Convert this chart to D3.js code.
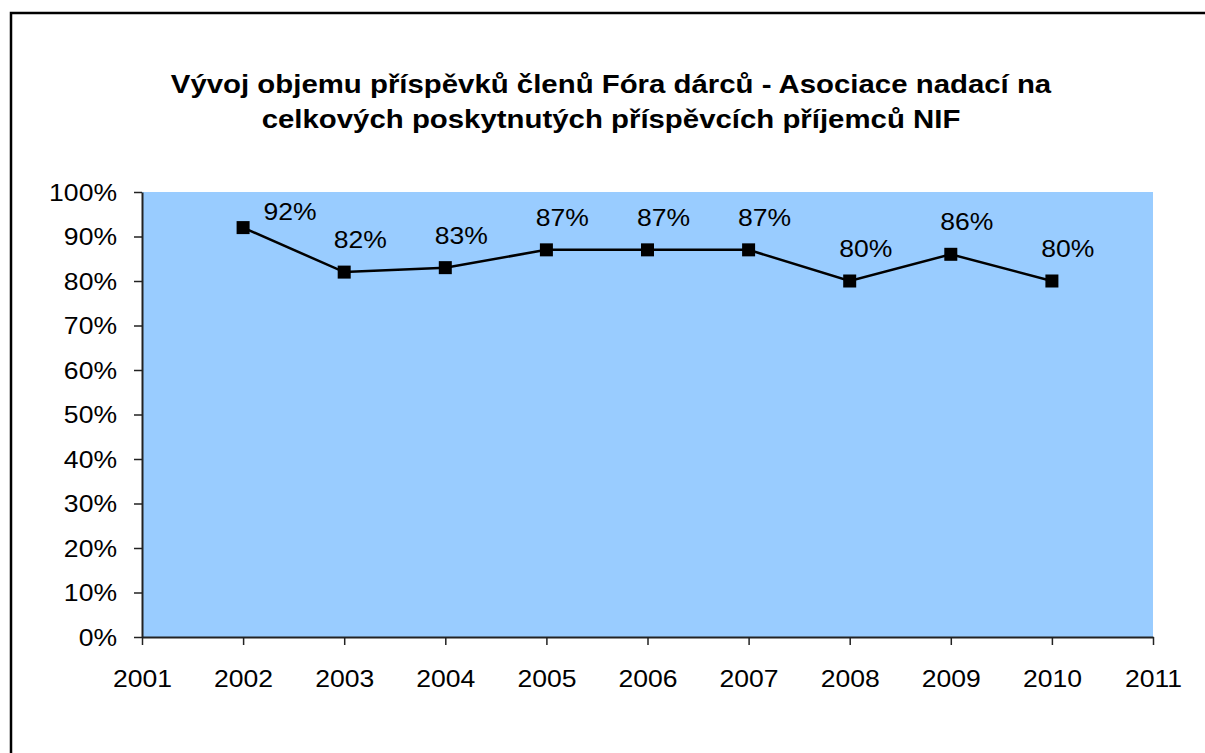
<!DOCTYPE html>
<html>
<head>
<meta charset="utf-8">
<script src="https://cdn.jsdelivr.net/npm/d3@7"></script>
<style>
  body { margin: 0; background: #fff; }
  text { font-family: Arial, "Liberation Sans", sans-serif; fill: #000; }
</style>
</head>
<body>
<div id="chart"></div>
<script>
// data
var years = [2002, 2003, 2004, 2005, 2006, 2007, 2008, 2009, 2010];
var shares = [0.92, 0.82, 0.83, 0.87, 0.87, 0.87, 0.80, 0.86, 0.80];
var xTicks = [2001, 2002, 2003, 2004, 2005, 2006, 2007, 2008, 2009, 2010, 2011];
var yTicks = [0, 0.1, 0.2, 0.3, 0.4, 0.5, 0.6, 0.7, 0.8, 0.9, 1];
var titleLines = ["Vývoj objemu příspěvků členů Fóra dárců - Asociace nadací na",
                  "celkových poskytnutých příspěvcích příjemců NIF"];

var W = 1205, H = 753;
var plot = {left: 142, right: 1153, top: 192, bottom: 637};
var sx = 1.13; // the picture is a bit stretched sideways

var svg = d3.select("#chart").append("svg")
    .attr("width", W)
    .attr("height", H);

// outer frame (only top and left edges show)
svg.append("path")
    .attr("d", "M11," + H + "V13H" + W)
    .attr("fill", "none")
    .attr("stroke", "#000")
    .attr("stroke-width", 2.5);

// title
svg.selectAll(".title")
    .data(titleLines)
  .enter().append("text")
    .attr("class", "title")
    .attr("transform", function(d, i) { return "translate(611," + (93 + i * 35) + ") scale(" + sx + ",1)"; })
    .attr("text-anchor", "middle")
    .style("font-size", "26px")
    .style("font-weight", "bold")
    .text(function(d) { return d; });

var x = d3.scaleLinear().domain([2001, 2011]).range([plot.left, plot.right]);
var y = d3.scaleLinear().domain([0, 1]).range([plot.bottom, plot.top]);

// plot area
svg.append("rect")
    .attr("x", plot.left)
    .attr("y", plot.top)
    .attr("width", plot.right - plot.left)
    .attr("height", plot.bottom - plot.top)
    .attr("fill", "#99ccff");

// Y axis
var yAxis = svg.append("g")
    .attr("transform", "translate(" + plot.left + ",0)")
    .call(d3.axisLeft(y).tickValues(yTicks).tickSize(8).tickSizeOuter(0).tickFormat(d3.format(".0%")));
yAxis.select(".domain").attr("stroke", "#222").attr("stroke-width", 2);
yAxis.selectAll(".tick line").attr("stroke", "#222").attr("stroke-width", 1.5);
yAxis.selectAll(".tick text")
    .attr("x", null).attr("dy", null)
    .attr("transform", "translate(-25,8) scale(" + sx + ",1)")
    .style("font-size", "23.5px")
    .style("font-family", "Arial, 'Liberation Sans', sans-serif");

// X axis
var xAxis = svg.append("g")
    .attr("transform", "translate(0," + plot.bottom + ")")
    .call(d3.axisBottom(x).tickValues(xTicks).tickSize(8).tickSizeOuter(0).tickFormat(d3.format("d")));
xAxis.select(".domain").attr("stroke", "#222").attr("stroke-width", 2);
xAxis.selectAll(".tick line").attr("stroke", "#222").attr("stroke-width", 1.5);
xAxis.selectAll(".tick text")
    .attr("y", null).attr("dy", null)
    .attr("transform", "translate(0,50) scale(" + sx + ",1)")
    .style("font-size", "23.5px")
    .style("font-family", "Arial, 'Liberation Sans', sans-serif");

// line
var pts = years.map(function(d, i) { return {year: d, v: shares[i]}; });
svg.append("path")
    .datum(pts)
    .attr("d", d3.line()
        .x(function(d) { return x(d.year); })
        .y(function(d) { return y(d.v); }))
    .attr("fill", "none")
    .attr("stroke", "#000")
    .attr("stroke-width", 2.5);

// square markers
svg.selectAll(".mark")
    .data(pts)
  .enter().append("rect")
    .attr("class", "mark")
    .attr("x", function(d) { return x(d.year) - 6.5; })
    .attr("y", function(d) { return y(d.v) - 6.5; })
    .attr("width", 13)
    .attr("height", 13)
    .attr("fill", "#000");

// value labels, pushed right when they would hit the top
svg.selectAll(".lbl")
    .data(pts)
  .enter().append("text")
    .attr("class", "lbl")
    .attr("transform", function(d) {
        var px = x(d.year) + 16, py = y(d.v) - 24;
        if (py < plot.top + 26) { px = x(d.year) + 47; py = y(d.v) - 8; }
        return "translate(" + px + "," + py + ") scale(" + sx + ",1)";
    })
    .attr("text-anchor", "middle")
    .style("font-size", "23.5px")
    .text(function(d) { return Math.round(d.v * 100) + "%"; });
</script>
</body>
</html>
